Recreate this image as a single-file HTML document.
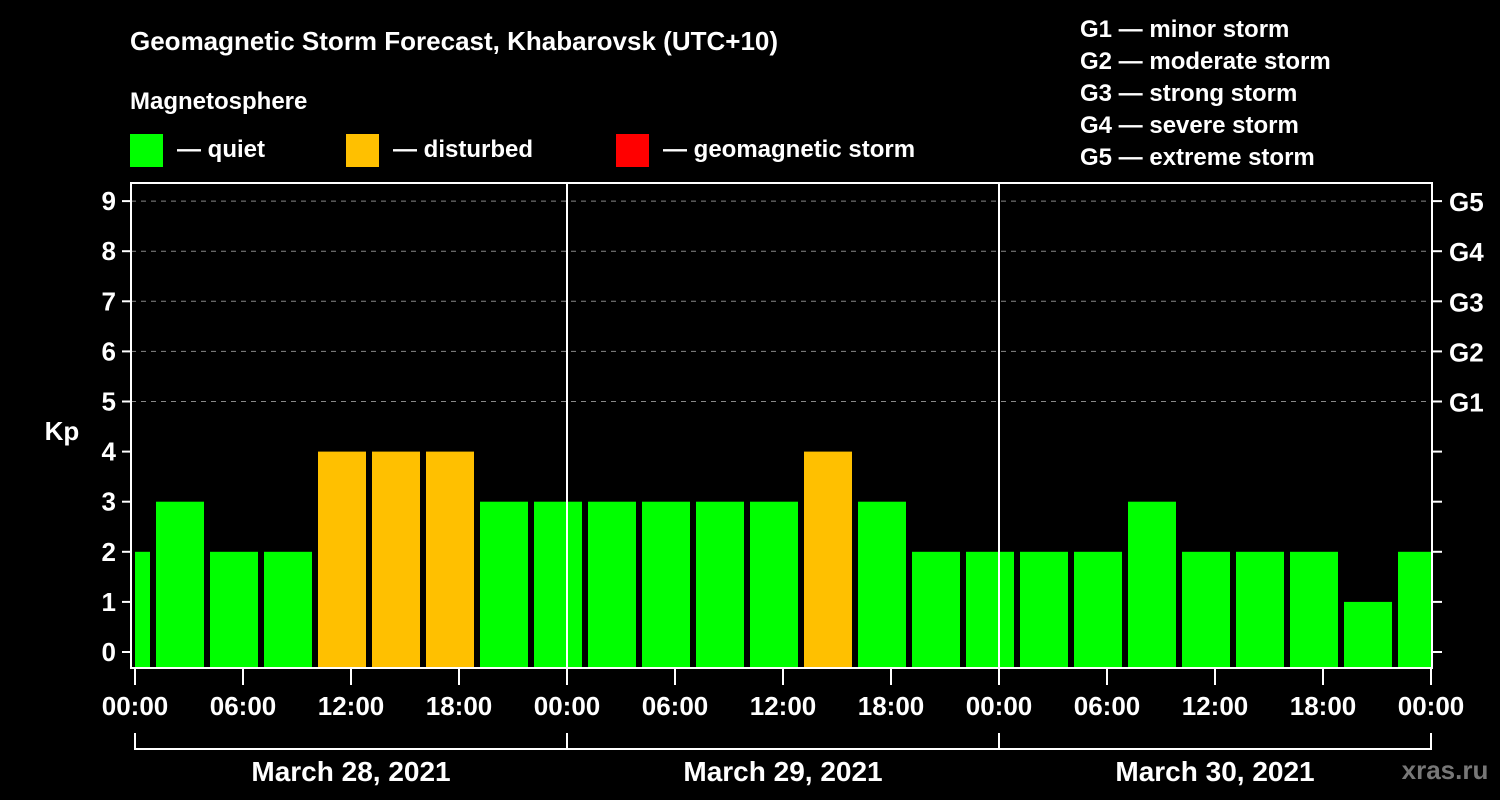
<!DOCTYPE html>
<html><head><meta charset="utf-8"><style>
html,body{margin:0;padding:0;background:#000;}
svg{display:block;font-family:"Liberation Sans",Arial,sans-serif;font-weight:bold;}
</style></head><body>
<svg id="chart" width="1500" height="800" viewBox="0 0 1500 800">
<rect x="0" y="0" width="1500" height="800" fill="#000"/>
<text x="130" y="50" fill="#fff" font-size="26">Geomagnetic Storm Forecast, Khabarovsk (UTC+10)</text>
<text x="130" y="109" fill="#fff" font-size="24">Magnetosphere</text>
<g><rect x="130" y="134" width="33" height="33" fill="#00ff00"/><text x="177" y="157" fill="#fff" font-size="24">— quiet</text></g>
<g><rect x="346" y="134" width="33" height="33" fill="#ffc000"/><text x="393" y="157" fill="#fff" font-size="24">— disturbed</text></g>
<g><rect x="616" y="134" width="33" height="33" fill="#ff0000"/><text x="663" y="157" fill="#fff" font-size="24">— geomagnetic storm</text></g>
<g fill="#fff" font-size="24">
<text x="1080" y="37">G1 — minor storm</text>
<text x="1080" y="69">G2 — moderate storm</text>
<text x="1080" y="101">G3 — strong storm</text>
<text x="1080" y="133">G4 — severe storm</text>
<text x="1080" y="165">G5 — extreme storm</text>
</g>
<g id="grid"></g>
<g id="bars"></g>
<g id="axes"></g>
<text x="62" y="440" fill="#fff" font-size="26" text-anchor="middle">Kp</text>
<text x="1445" y="779" fill="#777" font-size="26" text-anchor="middle">xras.ru</text>
</svg>
<script>
const kpValues=[2,3,2,2,4,4,4,3,3,3,3,3,3,4,3,2,2,2,2,3,2,2,2,1,2];
const xTickLabels=["00:00","06:00","12:00","18:00","00:00","06:00","12:00","18:00","00:00","06:00","12:00","18:00","00:00"];
const dateLabels=["March 28, 2021","March 29, 2021","March 30, 2021"];
const yTickLabels=["0","1","2","3","4","5","6","7","8","9"];
const gLabels=["G1","G2","G3","G4","G5"];
const NS="http://www.w3.org/2000/svg";
const L=131,R=1432,T=183,B=668,X0=135,PXH=18;
const xs=h=>X0+h*PXH;
const ys=v=>652-v*50.1;
function mk(tag,attrs,parent,txt){const e=document.createElementNS(NS,tag);for(const k in attrs)e.setAttribute(k,attrs[k]);if(txt!==undefined)e.textContent=txt;parent.appendChild(e);return e;}
const grid=document.getElementById('grid'),bars=document.getElementById('bars'),axes=document.getElementById('axes');
for(let v=5;v<=9;v++){const l=mk('line',{x1:L,x2:R,y1:ys(v),y2:ys(v),stroke:'#888','stroke-width':1,'stroke-dasharray':'5,5'},grid);

}
mk('clipPath',{id:'clip'},bars);document.getElementById('clip').appendChild(document.createElementNS(NS,'rect'));
const cr=document.querySelector('#clip rect');cr.setAttribute('x',X0);cr.setAttribute('y',T);cr.setAttribute('width',R-X0-1);cr.setAttribute('height',B-T);
kpValues.forEach((v,i)=>{const c=-0.5+3*i;const col=v>=5?'#ff0000':(v>=4?'#ffc000':'#00ff00');
const r=mk('rect',{x:xs(c)-24,y:ys(v),width:48,height:B-ys(v),fill:col,'clip-path':'url(#clip)'},bars);

});
// frame
const f=mk('rect',{x:L,y:T,width:R-L,height:B-T,fill:'none',stroke:'#fff','stroke-width':2},axes);


[1,2].forEach(d=>{const l=mk('line',{x1:xs(24*d),x2:xs(24*d),y1:T,y2:B,stroke:'#fff','stroke-width':2},axes);

});
yTickLabels.forEach((t,v)=>{mk('line',{x1:122,x2:L,y1:ys(v),y2:ys(v),stroke:'#fff','stroke-width':2},axes);
mk('line',{x1:R,x2:1442,y1:ys(v),y2:ys(v),stroke:'#fff','stroke-width':2},axes);
const tx=mk('text',{x:116,y:ys(v)+9,fill:'#fff','font-size':26,'text-anchor':'end'},axes,t);

});
gLabels.forEach((g,i)=>{const tx=mk('text',{x:1449,y:ys(5+i)+10,fill:'#fff','font-size':26},axes,g);

});
xTickLabels.forEach((t,i)=>{const x=xs(6*i);mk('line',{x1:x,x2:x,y1:B,y2:685,stroke:'#fff','stroke-width':2},axes);
const tx=mk('text',{x:x,y:715,fill:'#fff','font-size':26,'text-anchor':'middle'},axes,t);

});
mk('line',{x1:xs(0),x2:xs(72),y1:749,y2:749,stroke:'#fff','stroke-width':2},axes);
[0,1,2,3].forEach(d=>mk('line',{x1:xs(24*d),x2:xs(24*d),y1:733,y2:750,stroke:'#fff','stroke-width':2},axes));
dateLabels.forEach((t,d)=>{const tx=mk('text',{x:xs(24*d+12),y:781,fill:'#fff','font-size':28,'text-anchor':'middle'},axes,t);

});
</script>
</body></html>
